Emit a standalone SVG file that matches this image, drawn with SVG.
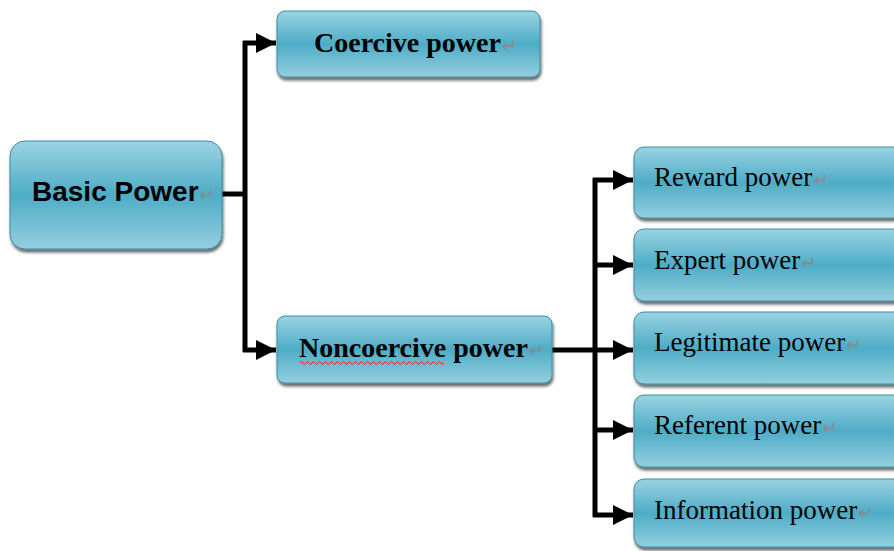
<svg xmlns="http://www.w3.org/2000/svg" width="894" height="551" viewBox="0 0 894 551">
<defs>
<linearGradient id="g" x1="0" y1="0" x2="0" y2="1">
<stop offset="0" stop-color="#9bd3e2"/>
<stop offset="0.5" stop-color="#4eacc6"/>
<stop offset="1" stop-color="#94cfdf"/>
</linearGradient>
<filter id="sh" x="-10%" y="-10%" width="120%" height="130%">
<feGaussianBlur in="SourceAlpha" stdDeviation="1.5"/>
<feOffset dx="1" dy="3" result="o"/>
<feComponentTransfer><feFuncA type="linear" slope="0.6"/></feComponentTransfer>
<feMerge><feMergeNode/><feMergeNode in="SourceGraphic"/></feMerge>
</filter>
<marker id="ah" markerUnits="userSpaceOnUse" markerWidth="22" markerHeight="22" refX="20" refY="11" orient="auto">
<path d="M0,1 L20,11 L0,21 Z" fill="#000"/>
</marker>
<style>
.box{fill:url(#g);stroke:#3a8ea6;stroke-width:1;filter:url(#sh)}
.conn{fill:none;stroke:#000;stroke-width:5}
.serif{font-family:"Liberation Serif","Times New Roman",serif;font-size:27px;fill:#000}
.bold{font-weight:bold;font-size:28px}
.sans{font-family:"Liberation Sans",Arial,sans-serif;font-size:28px;font-weight:bold;fill:#000}
.pm{font-family:"DejaVu Sans",sans-serif;font-size:18px;font-weight:normal;fill:#8a8a8a}
</style>
</defs>
<g id="connectors">
<path class="conn" d="M222,194 H245 M245,41 V352"/>
<path class="conn" d="M243,43 H276" marker-end="url(#ah)"/>
<path class="conn" d="M243,350 H276" marker-end="url(#ah)"/>
<path class="conn" d="M552,350 H595 M595,178 V517"/>
<path class="conn" d="M593,180 H633" marker-end="url(#ah)"/>
<path class="conn" d="M593,265 H633" marker-end="url(#ah)"/>
<path class="conn" d="M593,350 H633" marker-end="url(#ah)"/>
<path class="conn" d="M593,430 H633" marker-end="url(#ah)"/>
<path class="conn" d="M593,515 H633" marker-end="url(#ah)"/>
</g>
<g id="basic">
<rect class="box" x="10" y="141" width="212" height="108" rx="15"/>
<text class="sans" x="32" y="201">Basic Power<tspan class="pm" dx="1">↵</tspan></text>
</g>
<g id="coercive">
<rect class="box" x="277" y="11" width="263" height="66" rx="8"/>
<text class="serif bold" x="314" y="52">Coercive power<tspan class="pm" dx="1">↵</tspan></text>
</g>
<g id="noncoercive">
<rect class="box" x="277" y="316" width="275" height="67" rx="8"/>
<text class="serif bold" x="299" y="357">Noncoercive  power<tspan class="pm" dx="1">↵</tspan></text>
<path d="M300,363 q1.5,-3 3,0 t3,0 t3,0 t3,0 t3,0 t3,0 t3,0 t3,0 t3,0 t3,0 t3,0 t3,0 t3,0 t3,0 t3,0 t3,0 t3,0 t3,0 t3,0 t3,0 t3,0 t3,0 t3,0 t3,0 t3,0 t3,0 t3,0 t3,0 t3,0 t3,0 t3,0 t3,0 t3,0 t3,0 t3,0 t3,0 t3,0 t3,0 t3,0 t3,0 t3,0 t3,0 t3,0 t3,0 t3,0 t3,0 t3,0 t3,0" fill="none" stroke="#e02020" stroke-width="1"/>
</g>
<g id="reward">
<rect class="box" x="634" y="147" width="280" height="71" rx="10"/>
<text class="serif" x="654" y="186">Reward power<tspan class="pm" dx="1">↵</tspan></text>
</g>
<g id="expert">
<rect class="box" x="634" y="229" width="280" height="72" rx="10"/>
<text class="serif" x="654" y="269">Expert power<tspan class="pm" dx="1">↵</tspan></text>
</g>
<g id="legitimate">
<rect class="box" x="634" y="312" width="280" height="72" rx="10"/>
<text class="serif" x="654" y="351">Legitimate power<tspan class="pm" dx="1">↵</tspan></text>
</g>
<g id="referent">
<rect class="box" x="634" y="395" width="280" height="72" rx="10"/>
<text class="serif" x="654" y="434">Referent power<tspan class="pm" dx="1">↵</tspan></text>
</g>
<g id="information">
<rect class="box" x="634" y="479" width="280" height="68" rx="10"/>
<text class="serif" x="654" y="519">Information power<tspan class="pm" dx="1">↵</tspan></text>
</g>
</svg>
